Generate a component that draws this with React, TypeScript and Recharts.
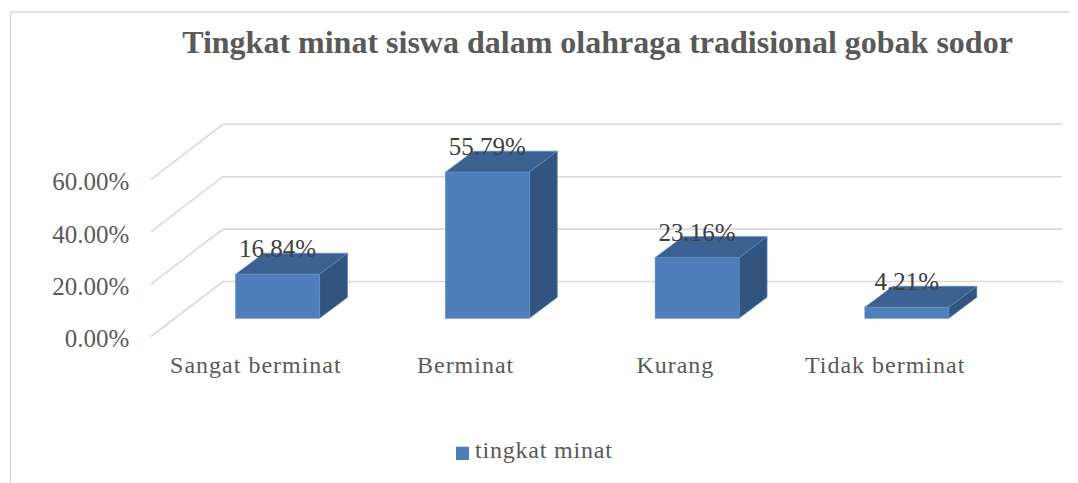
import React from 'react';
import { BarChart, Bar, XAxis, YAxis, CartesianGrid, LabelList, Legend } from 'recharts';

const categories = ['Sangat berminat', 'Berminat', 'Kurang', 'Tidak berminat'];
const values = [16.84, 55.79, 23.16, 4.21];
const yTicks = [0, 20, 40, 60];
const seriesName = 'tingkat minat';
const title = 'Tingkat minat siswa dalam olahraga tradisional gobak sodor';

const data = categories.map((c, i) => ({ name: c, value: values[i] }));

const W = 1070;
const H = 475;
// 3D projection offsets
const OX = 21.6; // bar front face shift into depth
const OY = -18.2;
const DX = 28; // bar depth
const DY = -21;
const WX = 72; // wall depth
const WY = -55;

const FRONT = '#4e7fbc';
const TOP = '#3b6190';
const SIDE = '#32547f';
const EDGE = '#5f8fc8';
const GRID = '#d9d9d9';
const TEXT = '#595959';
const FONT = '"Liberation Serif", "Times New Roman", serif';

const Bar3D = (props: any) => {
  const { x, y, width, height } = props;
  if (x == null || y == null) return null;
  const fx = x + OX;
  const fy = y + OY;
  const w = width;
  const h = height;
  return (
    <g>
      <polygon
        points={`${fx},${fy} ${fx + DX},${fy + DY} ${fx + w + DX},${fy + DY} ${fx + w},${fy}`}
        fill={TOP}
        stroke={EDGE}
        strokeWidth={0.6}
      />
      <polygon
        points={`${fx + w},${fy} ${fx + w + DX},${fy + DY} ${fx + w + DX},${fy + h + DY} ${fx + w},${fy + h}`}
        fill={SIDE}
        stroke={EDGE}
        strokeWidth={0.6}
      />
      <rect x={fx} y={fy} width={w} height={h} fill={FRONT} stroke={EDGE} strokeWidth={0.6} />
    </g>
  );
};

const gridLine = (p: any) => {
  const { x1, y1, x2 } = p;
  return (
    <polyline
      key={`g-${p.index ?? y1}`}
      points={`${x1},${y1} ${x1 + WX},${y1 + WY} ${x2 + WX},${y1 + WY}`}
      fill="none"
      stroke={GRID}
      strokeWidth={1.6}
    />
  );
};

const YTick = (props: any) => {
  const { x, y, payload } = props;
  return (
    <text
      x={x - 21.7}
      y={y + 2.4}
      textAnchor="end"
      dominantBaseline="central"
      fontFamily={FONT}
      fontSize={25}
      fill={TEXT}
    >
      {Number(payload.value).toFixed(2) + '%'}
    </text>
  );
};

const XTick = (props: any) => {
  const { x, y, payload } = props;
  return (
    <text
      x={x}
      y={y + 36.8}
      textAnchor="middle"
      fontFamily={FONT}
      fontSize={24}
      letterSpacing={1}
      fill={TEXT}
    >
      {payload.value}
    </text>
  );
};

const ValueLabel = (props: any) => {
  const { x, y, width, value } = props;
  return (
    <text
      x={x + width / 2 + OX}
      y={y + OY - 17}
      textAnchor="middle"
      fontFamily={FONT}
      fontSize={25}
      fill="#404040"
    >
      {Number(value).toFixed(2) + '%'}
    </text>
  );
};

const LegendContent = () => (
  <svg width={220} height={32} style={{ display: 'block' }}>
    <rect x={0} y={8.7} width={13} height={13.3} fill={FRONT} />
    <text x={19} y={20} fontFamily={FONT} fontSize={24} letterSpacing={0.8} fill={TEXT}>
      {seriesName}
    </text>
  </svg>
);

export default function App() {
  return (
    <div style={{ position: 'relative', width: W, height: H }}>
      <svg
        width={W}
        height={H}
        style={{ position: 'absolute', left: 0, top: 0 }}
      >
        <line x1={2.5} y1={4} x2={2.5} y2={H} stroke={GRID} strokeWidth={1.4} />
        <line x1={2.5} y1={4} x2={W} y2={4} stroke={GRID} strokeWidth={1.4} />
        <text
          x={589.5}
          y={45.3}
          textAnchor="middle"
          fontFamily={FONT}
          fontWeight="bold"
          fontSize={32}
          fill={TEXT}
        >
          {title}
        </text>
      </svg>
      <div style={{ position: 'absolute', left: 0, top: 0 }}>
        <BarChart
          width={W}
          height={H}
          data={data}
          margin={{ top: 171.3, right: 88, bottom: 106.5, left: 63 }}
          barSize={84}
        >
          <CartesianGrid vertical={false} horizontal={gridLine} />
          <XAxis
            dataKey="name"
            axisLine={false}
            tickLine={false}
            tickSize={0}
            tickMargin={0}
            height={40}
            tick={<XTick />}
            interval={0}
          />
          <YAxis
            domain={[0, 60]}
            ticks={yTicks}
            axisLine={false}
            tickLine={false}
            tickSize={0}
            tickMargin={0}
            width={80}
            tick={<YTick />}
          />
          <Legend
            layout="horizontal"
            verticalAlign="middle"
            align="center"
            wrapperStyle={{ top: 430, left: 448, width: 220 }}
            content={<LegendContent />}
          />
          <Bar
            dataKey="value"
            name={seriesName}
            fill={FRONT}
            shape={<Bar3D />}
            isAnimationActive={false}
          >
            <LabelList dataKey="value" content={<ValueLabel />} />
          </Bar>
        </BarChart>
      </div>
    </div>
  );
}
